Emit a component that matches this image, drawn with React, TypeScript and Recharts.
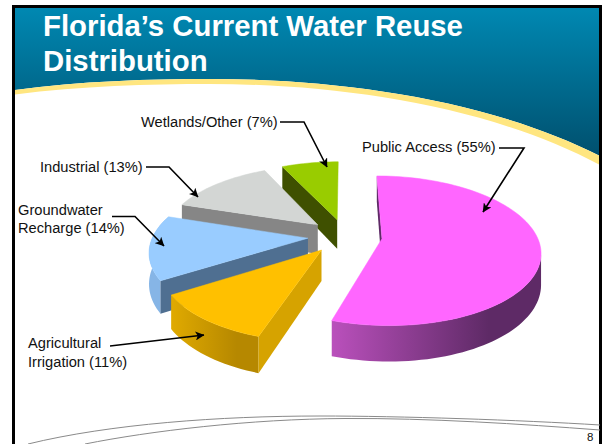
import React from "react";
import { PieChart, Pie } from "recharts";

// Shares of reuse, listed counter-clockwise from twelve o'clock so that
// nearer wedges paint over the ones behind them.
const categories = ["Wetlands/Other", "Industrial", "Groundwater Recharge", "Agricultural Irrigation", "Public Access"];
const shares = [7, 13, 14, 11, 55];

const topColors = ["#99CC00", "#D3D6D4", "#99CCFF", "#FFC000", "#FF66FF"];
const wallColors = ["#3F5000", "#868686", "#4F6F91", "#D6A300", "#5E2A66"];
const rimFrom = ["#7FA800", "#AEB0AE", "#86B5E6", "#E0AA00", "#BA50BC"];
const rimTo = ["#7FA800", "#AEB0AE", "#86B5E6", "#B68800", "#5E2A66"];

const tableData = categories.map((name, i) => ({ name, value: shares[i], idx: i }));

// Each callout: text lines with baselines, then the leader polyline ending in an arrow.
const callouts = [
  { lines: [{ text: "Wetlands/Other (7%)", x: 141, y: 127 }], path: [[280, 122], [304, 122], [327, 167]] },
  { lines: [{ text: "Industrial (13%)", x: 40, y: 172 }], path: [[146, 167], [169, 167], [198, 197]] },
  {
    lines: [
      { text: "Groundwater", x: 18, y: 215 },
      { text: "Recharge (14%)", x: 18, y: 233 },
    ],
    path: [[112, 216.5], [135, 216.5], [164, 246]],
  },
  {
    lines: [
      { text: "Agricultural", x: 28, y: 348 },
      { text: "Irrigation (11%)", x: 28, y: 367 },
    ],
    path: [[110, 346], [204, 335]],
  },
  { lines: [{ text: "Public Access (55%)", x: 362, y: 152 }], path: [[499, 148], [524, 148], [483, 212]] },
];

const W = 602;
const H = 444;
const LABEL_FONT = "'Liberation Sans', Arial, sans-serif";

// Tilted-plane projection of the pie's ground plan
const Y_RATIO = 0.4645;
const PERSPECTIVE = 0.16;
const EXPLODE = 0.24;
const THICKNESS = 30;

const project = (u: number, v: number, cx: number, cy: number, r: number) => {
  const s = 1 / (1 + PERSPECTIVE * v);
  return { x: cx + r * u * s, y: cy - r * Y_RATIO * v * s, s };
};

const rad = (d: number) => (d * Math.PI) / 180;

function Wedge3D(props: any) {
  const { cx, cy, outerRadius, startAngle, endAngle, payload } = props;
  const i = payload?.idx ?? props.idx ?? 0;
  // Recharts angles run counter-clockwise from east; bearings here run clockwise from north.
  const a0 = 90 - Math.max(startAngle, endAngle);
  const a1 = 90 - Math.min(startAngle, endAngle);
  const mid = (a0 + a1) / 2;
  const ou = EXPLODE * Math.sin(rad(mid));
  const ov = EXPLODE * Math.cos(rad(mid));

  const apex = project(ou, ov, cx, cy, outerRadius);
  const arc: { x: number; y: number; s: number }[] = [];
  const steps = Math.max(4, Math.ceil((a1 - a0) / 2));
  for (let k = 0; k <= steps; k++) {
    const a = a0 + ((a1 - a0) * k) / steps;
    arc.push(project(ou + Math.sin(rad(a)), ov + Math.cos(rad(a)), cx, cy, outerRadius));
  }

  const drop = (p: { x: number; y: number; s: number }) => ({ x: p.x, y: p.y + THICKNESS * p.s });
  const poly = (list: { x: number; y: number }[]) =>
    list.map((p, k) => `${k ? "L" : "M"}${p.x},${p.y}`).join("") + "Z";

  // The flat wall running from the apex to the first rim point shows when it heads left.
  const wall = arc[0].x < apex.x ? poly([apex, arc[0], drop(arc[0]), drop(apex)]) : null;

  // Only the stretch of rim heading left faces the viewer.
  let first = -1;
  for (let k = 0; k < arc.length - 1; k++) {
    if (arc[k + 1].x < arc[k].x) {
      first = k;
      break;
    }
  }
  const frontRim = first >= 0 ? arc.slice(first) : [];
  const rim = frontRim.length > 1 ? poly([...frontRim, ...frontRim.map(drop).reverse()]) : null;

  const xs = frontRim.map((p) => p.x);
  const gradId = `rim-${i}`;

  return (
    <g>
      {rim && (
        <>
          <defs>
            <linearGradient
              id={gradId}
              gradientUnits="userSpaceOnUse"
              x1={Math.min(...xs)}
              y1={0}
              x2={Math.min(...xs) + (Math.max(...xs) - Math.min(...xs)) * 0.75}
              y2={0}
            >
              <stop offset="0" stopColor={rimFrom[i]} />
              <stop offset="1" stopColor={rimTo[i]} />
            </linearGradient>
          </defs>
          <path d={rim} fill={`url(#${gradId})`} />
        </>
      )}
      {wall && <path d={wall} fill={wallColors[i]} />}
      <path d={poly([apex, ...arc])} fill={topColors[i]} stroke={topColors[i]} strokeWidth={0.5} />
    </g>
  );
}

function Callout(props: any) {
  const i = props.payload?.idx ?? props.idx ?? props.index ?? 0;
  const c = callouts[i];
  return (
    <g>
      {c.lines.map((l) => (
        <text key={l.text} x={l.x} y={l.y} fontFamily={LABEL_FONT} fontSize={14.67} fill="#111">
          {l.text}
        </text>
      ))}
      <polyline
        points={c.path.map((p) => p.join(",")).join(" ")}
        fill="none"
        stroke="#000"
        strokeWidth={1.6}
        markerEnd="url(#leader-arrow)"
      />
    </g>
  );
}

function Backdrop() {
  return (
    <svg width={W} height={H} style={{ position: "absolute", left: 0, top: 0 }}>
      <defs>
        <linearGradient id="banner" gradientUnits="userSpaceOnUse" x1={0} y1={8} x2={0} y2={160}>
          <stop offset="0" stopColor="#0088B2" />
          <stop offset="1" stopColor="#004E6C" />
        </linearGradient>
        <marker id="leader-arrow" viewBox="0 0 10 10" refX="9.5" refY="5" markerWidth="9" markerHeight="9" orient="auto" markerUnits="userSpaceOnUse">
          <path d="M0,0L10,5L0,10L2.5,5Z" fill="#000" />
        </marker>
      </defs>
      <rect width={W} height={H} fill="#fff" />
      <path d="M15,8H600V156C490,100 340,79 210,79C150,79 80,81 15,90Z" fill="url(#banner)" />
      <path d="M15,90C80,81 150,79 210,79C340,79 490,100 600,156V165C490,106 340,84 210,84C150,84 80,86 15,94.5Z" fill="#FFE680" />
      <path d="M13.5,444V6.5H600.5V444" fill="none" stroke="#000" strokeWidth={3} />
      <path d="M28,444C110,424 220,416 320,416C400,416 520,420 600,425" fill="none" stroke="#8a8a8a" strokeWidth={1} />
      <path d="M85,444C150,431 250,419 345,418.5C430,418 520,424 600,430" fill="none" stroke="#8a8a8a" strokeWidth={1} />
      <g fontFamily={LABEL_FONT} fontWeight="bold" fontSize={29.33} fill="#fff">
        <text x={43} y={36}>Florida’s Current Water Reuse</text>
        <text x={43} y={71}>Distribution</text>
      </g>
      <text x={587} y={441} fontFamily={LABEL_FONT} fontSize={11.5} fill="#111">8</text>
    </svg>
  );
}

export default function App() {
  return (
    <div style={{ position: "absolute", left: 0, top: 0, width: W, height: H, overflow: "hidden", background: "#fff" }}>
      <Backdrop />
      <div style={{ position: "absolute", left: 0, top: 0 }}>
        <PieChart width={W} height={H} margin={{ top: 0, right: 0, bottom: 0, left: 0 }}>
          <Pie
            data={tableData}
            dataKey="value"
            nameKey="name"
            cx={345}
            cy={236}
            innerRadius={0}
            outerRadius={155}
            startAngle={90}
            endAngle={450}
            stroke="none"
            isAnimationActive={false}
            shape={Wedge3D}
            activeShape={Wedge3D}
            inactiveShape={Wedge3D}
            label={Callout}
            labelLine={false}
            rootTabIndex={-1}
          />
        </PieChart>
      </div>
    </div>
  );
}
